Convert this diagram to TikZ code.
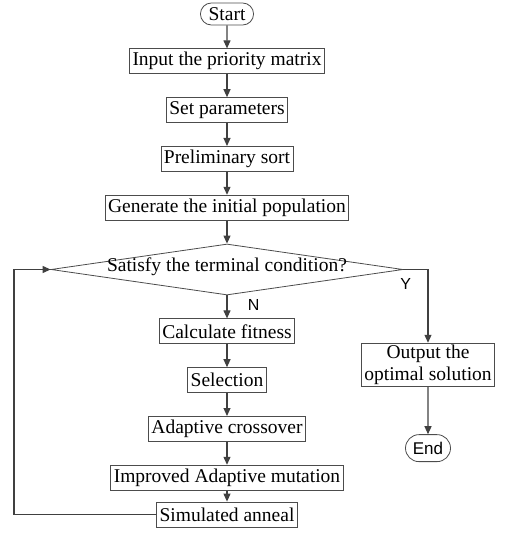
\documentclass[tikz,border=0pt]{standalone}
\usepackage{fontspec}
\setmainfont{Liberation Serif}
\newfontfamily\labelfont{Liberation Sans}
\usepackage{tikz}
\usetikzlibrary{positioning}
\usetikzlibrary{arrows.meta}
\usetikzlibrary{shapes.geometric,shapes.misc}

\begin{document}
\begin{tikzpicture}[
    >={Triangle[length=8pt,width=7pt]}, % arrow head style
    node distance=23pt, % vertical spacing
    flowLink/.style={->, draw=black!75, line width=1.1pt},
    % Styling for the nodes
    flowBox/.style={
        rectangle,
        draw=black!70,
        line width=0.8pt,
        minimum height=25pt,
        inner xsep=3pt,
        inner ysep=2pt,
        font=\fontsize{19.5}{21}\selectfont
    },
    flowEnd/.style={
        rounded rectangle,
        draw=black!70,
        line width=0.8pt,
        minimum height=22pt,
        inner xsep=6pt,
        inner ysep=1pt,
        font=\fontsize{19.5}{21}\selectfont
    },
    flowTest/.style={
        diamond,
        aspect=7,
        draw=black!70,
        line width=0.8pt,
        minimum width=352pt,
        minimum height=51pt,
        inner sep=0pt,
        text height=7pt,
        text depth=4pt,
        font=\fontsize{19.5}{21}\selectfont
    },
    yesNo/.style={font=\labelfont\fontsize{16}{18}\selectfont, text=black}
]
    \useasboundingbox (0pt,0pt) rectangle (505pt,-534pt);

    % Define Nodes
    \node[flowEnd] (start) at (227pt,-14pt) {Start};
    \node[flowBox] (input) [below=of start] {Input the priority matrix};
    \node[flowBox] (param) [below=of input] {Set parameters};
    \node[flowBox] (sort) [below=of param] {Preliminary sort};
    \node[flowBox] (init) [below=of sort] {Generate the initial population};
    \node[flowTest] (cond) [below=of init] {Satisfy the terminal condition?};
    \node[flowBox] (fit) [below=of cond] {Calculate fitness};
    \node[flowBox] (select) [below=of fit] {Selection};
    \node[flowBox] (cross) [below=of select] {Adaptive crossover};
    \node[flowBox] (mutate) [below=of cross] {Improved Adaptive mutation};
    \node[flowBox] (anneal) [below=11pt of mutate] {Simulated anneal};
    \node[flowBox, align=center, font=\fontsize{19.5}{22}\selectfont] (output) at (428pt,-365pt) {Output the\\optimal solution};
    \node[flowEnd, font=\labelfont\fontsize{17}{19}\selectfont, minimum width=57pt, minimum height=27pt] (finish) [below=47pt of output] {End};
    \coordinate (back) at (14pt,0pt);

    % Draw Edges
    \begin{scope}[flowLink]
    \draw (start) -- (input);
    \draw (input) -- (param);
    \draw (param) -- (sort);
    \draw (sort) -- (init);
    \draw (init) -- (cond);
    \draw (cond) -- node[yesNo, right=17pt, pos=0.4] (no) {N} (fit);
    \draw (fit) -- (select);
    \draw (select) -- (cross);
    \draw (cross) -- (mutate);
    \draw (mutate) -- (anneal);
    \draw (cond.east) -| node[yesNo, pos=0.6, left=13pt] (yes) {Y} (output.north);
    \draw (output) -- (finish);
    \draw (anneal.west) -- (anneal.west -| back) |- (cond.west);
    \end{scope}

\end{tikzpicture}
\end{document}
